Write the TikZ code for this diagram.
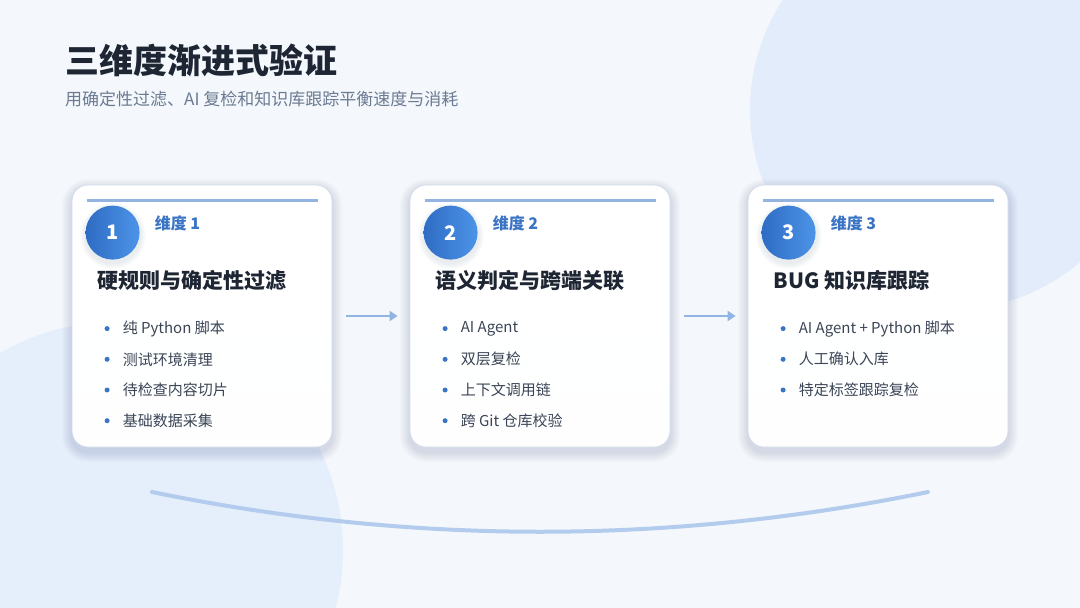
\documentclass[tikz,border=0pt]{standalone}
\usepackage{fontspec}
\setmainfont{Noto Sans CJK SC}
\usetikzlibrary{positioning,arrows.meta}
\definecolor{pagebg}{HTML}{F4F7FB}
\definecolor{blobtint}{HTML}{E2ECFA}
\definecolor{blobtintlow}{HTML}{E5EEFB}
\definecolor{headink}{HTML}{1E2533}
\definecolor{subink}{HTML}{6B7B92}
\definecolor{accent}{HTML}{3A74C4}
\definecolor{bodyink}{HTML}{3B4556}
\definecolor{cardedge}{HTML}{D3DDEA}
\definecolor{ruleblue}{HTML}{93B3E0}
\definecolor{flowblue}{HTML}{90B4E4}
\definecolor{arcblue}{HTML}{B3CCEE}
\definecolor{badgedark}{HTML}{2F6CC4}
\definecolor{badgelight}{HTML}{4C94E8}
\definecolor{shadetone}{HTML}{5A6E90}
\tikzset{
  card/.style={draw=cardedge, line width=0.8pt, rounded corners=16pt,
    top color=white, bottom color=white!92!pagebg,
    minimum width=260pt, minimum height=262pt},
  badge/.style={circle, minimum size=54pt, inner sep=0pt, text=white,
    font=\fontsize{20}{24}\selectfont\bfseries, shading=axis, shading angle=135,
    left color=badgedark, right color=badgelight},
  softshade/.style={fill=shadetone, opacity=0.018},
  dimlabel/.style={anchor=west, inner sep=0pt, text=accent, font=\fontsize{16}{19}\selectfont\bfseries},
  cardtitle/.style={anchor=west, inner sep=0pt, text=headink, font=\fontsize{21}{25}\selectfont\bfseries},
  itemtext/.style={anchor=west, inner sep=0pt, text=bodyink, font=\fontsize{15}{18}\selectfont},
  itemdot/.style={circle, fill=accent, inner sep=0pt, minimum size=5pt},
  flowarrow/.style={draw=flowblue, line width=2.4pt, -{Triangle[length=8pt,width=10pt]}},
  arcline/.style={draw=arcblue, line width=4pt, line cap=round}
}
\begin{document}
\begin{tikzpicture}[x=1pt, y=-1pt]
  \useasboundingbox (0,0) rectangle (1080,608);
  % background and soft blobs
  \fill[pagebg] (0,0) rectangle (1080,608);
  \fill[blobtint] (950,110) circle[radius=200pt];
  \fill[blobtintlow] (115,550) circle[radius=228pt];
  % heading
  \node[anchor=west, inner sep=0pt, text=headink, font=\fontsize{34}{41}\selectfont\bfseries] (heading) at (65,60) {三维度渐进式验证};
  \node[anchor=west, inner sep=0pt, text=subink, font=\fontsize{17}{20}\selectfont] (subheading) at (65,99) {用确定性过滤、AI 复检和知识库跟踪平衡速度与消耗};
  % bottom arc
  \coordinate (arcL) at (152,492);
  \coordinate (arcR) at (928,492);
  \draw[arcline] (arcL) .. controls (411,545) and (669,545) .. (arcR);
  % three cards
  \foreach \i/\cx/\ttl/\items in {
      1/202/{硬规则与确定性过滤}/{纯 Python 脚本,测试环境清理,待检查内容切片,基础数据采集},
      2/540/{语义判定与跨端关联}/{AI Agent,双层复检,上下文调用链,跨 Git 仓库校验},
      3/878/{BUG 知识库跟踪}/{AI Agent + Python 脚本,人工确认入库,特定标签跟踪复检}} {
    \foreach \s in {1,...,10}
      \fill[softshade, rounded corners=16pt+\s pt] (\cx-130-\s,189-\s) rectangle (\cx+130+\s,452+\s);
    \node[card] (card\i) at (\cx,316) {};
    \draw[ruleblue, line width=2.6pt] ([xshift=15pt,yshift=-16pt]card\i.north west) -- ([xshift=-14pt,yshift=-16pt]card\i.north east);
    \foreach \s in {1,...,6}
      \fill[softshade] (\cx-89,236) circle[radius=27pt+\s pt];
    \node[badge] (badge\i) at ([xshift=41pt,yshift=-48pt]card\i.north west) {\i};
    \node[dimlabel] (dim\i) at ([xshift=83pt,yshift=-39pt]card\i.north west) {维度 \i};
    \node[cardtitle] (title\i) at ([xshift=26pt,yshift=-96pt]card\i.north west) {\ttl};
    \foreach \it [count=\k] in \items {
      \node[itemdot] (dot\i\k) at ([xshift=35.5pt,yshift={-144pt-30.7pt*(\k-1)}]card\i.north west) {};
      \node[itemtext] (item\i\k) at ([xshift=51pt,yshift={-144pt-30.7pt*(\k-1)}]card\i.north west) {\it};
    }
  }
  % flow arrows
  \draw[flowarrow, shorten <=14pt, shorten >=12pt] (card1.east) -- (card2.west);
  \draw[flowarrow, shorten <=14pt, shorten >=12pt] (card2.east) -- (card3.west);
\end{tikzpicture}
\end{document}
